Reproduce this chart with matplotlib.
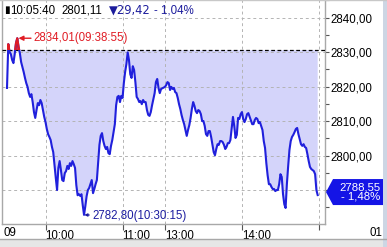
import numpy as np
import matplotlib.pyplot as plt
from matplotlib.patches import Polygon, Rectangle

# index quote, 1-minute closes
prev_close = 2830.53
last_price = 2788.55
last_change = "- 1,48%"

# 09:30 .. 11:30
am_prices = [
    2819.6, 2832.3, 2830.0, 2829.4, 2827.7, 2826.8, 2829.4, 2832.6, 2834.01, 2831.5,
    2829.7, 2827.1, 2825.7, 2824.2, 2822.5, 2821.0, 2819.9, 2818.1, 2817.0, 2817.8,
    2815.5, 2812.6, 2810.9, 2813.2, 2815.2, 2814.6, 2816.1, 2815.2, 2813.2, 2811.2,
    2809.7, 2807.7, 2806.2, 2805.4, 2804.5, 2802.5, 2801.0, 2797.2, 2793.5, 2790.0,
    2796.4, 2798.4, 2795.8, 2792.9, 2792.6, 2794.9, 2795.5, 2797.0, 2796.1, 2797.8,
    2797.0, 2798.4, 2797.5, 2796.4, 2791.4, 2788.5, 2788.8, 2788.3, 2788.8, 2785.6,
    2782.8, 2785.3, 2788.2, 2790.0, 2790.6, 2791.7, 2792.9, 2789.1, 2790.3, 2791.7,
    2792.9, 2797.8, 2803.1, 2805.7, 2806.5, 2804.2, 2802.8, 2801.9, 2802.5, 2800.7,
    2800.4, 2802.8, 2804.5, 2806.8, 2809.1, 2814.6, 2817.0, 2817.3, 2815.5, 2817.3,
    2816.7, 2821.0, 2824.2, 2826.5, 2829.9, 2827.7, 2823.6, 2822.5, 2825.9, 2824.8,
    2821.3, 2817.0, 2816.4, 2815.5, 2815.8, 2814.9, 2816.1, 2815.5, 2815.5, 2813.2,
    2811.8, 2811.5, 2812.6, 2814.6, 2816.4, 2818.1, 2821.3, 2822.2, 2819.6, 2818.1,
    2819.3,
]
# 13:00 .. 14:59
pm_prices = [
    2819.9, 2820.4, 2821.3, 2821.0, 2819.0, 2819.9, 2819.3, 2819.6, 2818.4, 2818.1,
    2816.7, 2814.9, 2813.5, 2811.7, 2810.3, 2809.1, 2807.4, 2805.7, 2807.4, 2808.8,
    2810.9, 2813.5, 2815.5, 2814.4, 2812.9, 2812.3, 2813.2, 2812.9, 2812.0, 2810.0,
    2810.0, 2808.6, 2806.2, 2805.7, 2807.1, 2807.1, 2805.4, 2803.1, 2801.0, 2800.1,
    2801.9, 2803.3, 2803.1, 2804.2, 2804.2, 2803.9, 2803.1, 2801.9, 2802.5, 2803.6,
    2803.6, 2804.5, 2808.0, 2811.2, 2808.6, 2805.1, 2806.0, 2810.9, 2810.6, 2812.0,
    2812.6, 2810.6, 2809.7, 2810.6, 2812.0, 2812.3, 2811.2, 2810.0, 2809.1, 2809.1,
    2810.3, 2810.9, 2810.6, 2809.4, 2809.7, 2808.5, 2807.4, 2804.2, 2802.2, 2797.8,
    2794.3, 2791.7, 2791.7, 2790.9, 2790.3, 2790.3, 2789.7, 2790.0, 2790.0, 2791.7,
    2794.6, 2793.8, 2788.8, 2785.9, 2784.8, 2791.7, 2796.9, 2801.6, 2804.2, 2805.4,
    2806.0, 2806.8, 2807.7, 2808.0, 2806.2, 2804.8, 2803.3, 2802.8, 2803.3, 2802.5,
    2802.2, 2800.4, 2798.4, 2796.7, 2796.1, 2795.8, 2795.5, 2794.6, 2790.0, 2788.55,
]

x_tick_times = ["10:00", "11:00", "13:00", "14:00", "15:00"]
x_tick_labels = ["10:00", "11:00", "13:00", "14:00", ""]
y_ticks = [2790, 2800, 2810, 2820, 2830, 2840]
y_labelled = [2800, 2810, 2820, 2830, 2840]  # 2790 sits under the last-price tag

high_value, high_time = 2834.01, "09:38:55"
low_value, low_time = 2782.80, "10:30:15"
header_time = "10:05:40"
header_price = "2801,11"
header_change = "\u25bc29,42"
header_pct = "- 1,04%"

LUNCH_GAP = 3  # minutes of axis left between the two sessions


def session_x(hhmmss):
    parts = [int(p) for p in hhmmss.split(":")]
    while len(parts) < 3:
        parts.append(0)
    t = parts[0] * 60 + parts[1] + parts[2] / 60
    if t <= 11 * 60 + 30:
        return t - (9 * 60 + 30)
    return t - 13 * 60 + 120 + LUNCH_GAP


def comma(v):
    return f"{v:.2f}".replace(".", ",")


plt.rcParams["font.family"] = ["Liberation Sans", "DejaVu Sans"]

x = np.concatenate([np.arange(len(am_prices)),
                    120 + LUNCH_GAP + np.arange(len(pm_prices))]).astype(float)
y = np.array(am_prices + pm_prices)

W, H = 387, 247
fig = plt.figure(figsize=(W / 100, H / 100), dpi=100)
ax = fig.add_axes([2 / W, 23 / H, 323 / W, 224 / H])
ax.set_xlim(-3.9, 247.7)
ax.set_ylim(2780.16, 2845.09)

grey = "#a8a8a8"
line_blue = "#2020dc"
fill_blue = "#d4d4fa"
red = "#e01c24"

# fills against previous close
ax.fill_between(x, y, prev_close, where=y <= prev_close, interpolate=True,
                color=fill_blue, lw=0, zorder=1)
ax.fill_between(x, y, prev_close, where=y >= prev_close, interpolate=True,
                color="#ff3030", lw=0, zorder=1)

# grid
for v in y_ticks:
    ax.axhline(v, color="#b4b4b4", lw=0.7, ls=(0, (3, 3)), zorder=2)
tick_pos = [session_x(t) for t in x_tick_times]
for p in tick_pos:
    ax.axvline(p, color="#b4b4b4", lw=0.7, ls=(0, (3, 3)), zorder=2)
ax.axhline(prev_close, color="black", lw=0.9, ls=(0, (3, 2)), zorder=3)

ax.plot(x, y, color=line_blue, lw=1.5, zorder=4)
red_line, = ax.plot(x, y, color=red, lw=1.5, zorder=5)
clip = Rectangle((x[0] - 5, prev_close), 300, 50, transform=ax.transData)
red_line.set_clip_path(clip)

# axes styling
ax.spines["top"].set_visible(False)
for s in ["left", "right", "bottom"]:
    ax.spines[s].set_color(grey)
    ax.spines[s].set_linewidth(1)

ax.yaxis.tick_right()
ax.set_yticks(y_ticks)
ax.set_yticklabels([comma(v) if v in y_labelled else "" for v in y_ticks])
ax.set_yticks([v + 5 for v in y_ticks] + [2785], minor=True)
ax.tick_params(axis="y", which="both", direction="out", length=3, width=0.8,
               color="#555555", pad=1, labelsize=8.3, labelcolor="black")

ax.set_xticks(tick_pos)
ax.set_xticklabels(x_tick_labels)
ax.tick_params(axis="x", direction="out", length=4, width=0.8, color="#555555",
               pad=0, labelsize=8.3)
for lbl in ax.get_xticklabels():
    lbl.set_ha("left")

# day labels at both ends of the time axis
fig.text(3 / W, 1 - 233 / H, "09", fontsize=8.3, va="center", ha="left")
fig.text(382 / W, 1 - 233 / H, "01", fontsize=8.3, va="center", ha="right")

# high / low markers
ax.annotate(f"{comma(high_value)}({high_time})",
            xy=(session_x(high_time), high_value), xytext=(11, 0),
            textcoords="offset points", color=red, fontsize=8.3, va="center",
            ha="left",
            arrowprops=dict(arrowstyle="-|>", color=red, lw=1,
                            mutation_scale=7, shrinkA=0, shrinkB=0))
ax.annotate(f"{comma(low_value)}({low_time})",
            xy=(session_x(low_time), low_value), xytext=(5.5, -1),
            textcoords="offset points", color="#1c1ca0", fontsize=8.3,
            va="center", ha="left",
            arrowprops=dict(arrowstyle="-|>", color="#1c1ca0", lw=0.9,
                            mutation_scale=4, shrinkA=0, shrinkB=0))

# header quote
hy = 1 - 10.5 / H
fig.text(4 / W, hy, "\u25ae", fontsize=7.5, va="center", ha="left",
         family="DejaVu Sans")
fig.text(10 / W, hy, header_time, fontsize=8.3, va="center")
fig.text(61 / W, hy, header_price, fontsize=8.3, va="center")
fig.text(109 / W, hy, header_change, fontsize=8.3, va="center", color="#1c1c9c",
         family=["DejaVu Sans"])
fig.text(154 / W, hy, header_pct, fontsize=8.3, va="center", color="#1c1c9c")

# last price tag on the right axis
fig.canvas.draw()
_, py = ax.transData.transform((x[-1], last_price))
yc = py + 3
tag = Polygon([(326, yc), (333, yc + 13), (383, yc + 13), (383, yc - 13),
               (333, yc - 13)], closed=True, transform=None,
              facecolor="#1414e6", edgecolor="none", zorder=10)
fig.patches.append(tag)
fig.text(380 / W, yc / H, f"{comma(last_price)}\n{last_change}", color="white",
         fontsize=8.2, ha="right", va="center", multialignment="right",
         linespacing=0.95, zorder=11)

# window chrome: bottom strip, right edge, top rule
fig.patches.append(Rectangle((0, 0), 1, 8 / H, transform=fig.transFigure,
                             facecolor="#e6e6e6", edgecolor="none"))
fig.add_artist(plt.Line2D([0, 1], [1 - 239 / H] * 2, transform=fig.transFigure,
                          color=grey, lw=1))
fig.patches.append(Rectangle((383 / W, 0), 4 / W, 1, transform=fig.transFigure,
                             facecolor="#cdd6e4", edgecolor="none"))
fig.add_artist(plt.Line2D([0, 1], [1 - 0.5 / H] * 2, transform=fig.transFigure,
                          color="#c8c8c8", lw=1))

fig.savefig("out.png", dpi=100, facecolor="white")
